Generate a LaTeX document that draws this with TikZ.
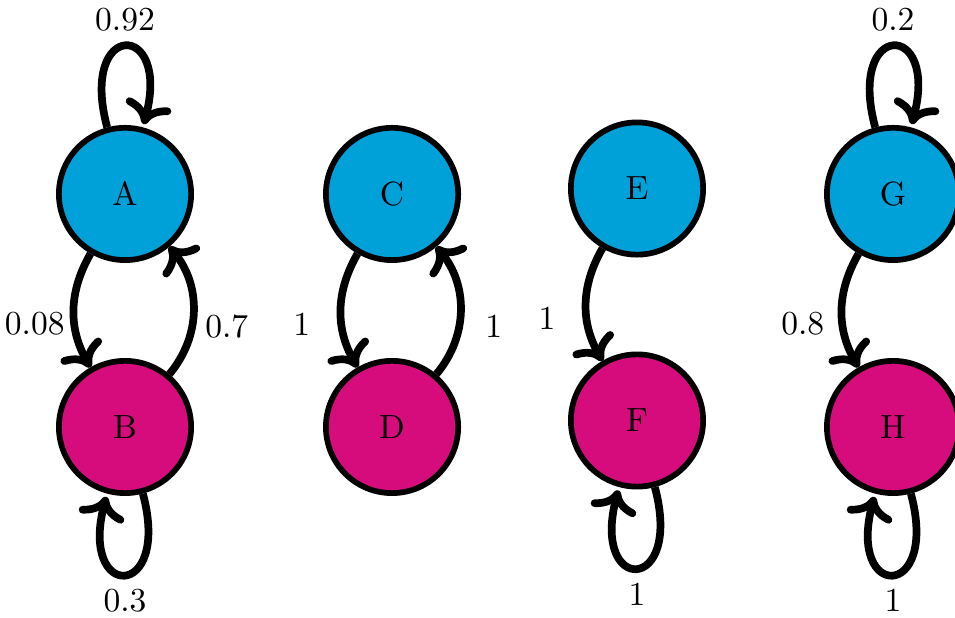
\documentclass[tikz,border=0pt]{standalone}
\usetikzlibrary{arrows.meta}
\usepackage{xcolor}

\definecolor{stateblue}{RGB}{0,160,216}
\definecolor{statepink}{RGB}{214,12,124}

\tikzset{
state/.style={circle, draw=black, line width=1.7pt, minimum size=1.385cm, inner sep=0pt},
upper state/.style={state, fill=stateblue},
lower state/.style={state, fill=statepink},
trans/.style={->, line width=2.3pt},
lab left/.style={xshift=-4.1mm, yshift=-1.4mm},
lab right/.style={xshift=3.5mm, yshift=-1.7mm}
}

\begin{document}
\begin{tikzpicture}
\useasboundingbox (0,0) rectangle (10,-6.471);

% -------- States --------
\node[upper state] (A) at (1.309,-2.031) {A};
\node[lower state] (B) at (1.309,-4.471) {B};
\node[upper state] (C) at (4.105,-2.031) {C};
\node[lower state] (D) at (4.105,-4.471) {D};
\node[upper state] (E) at (6.670,-1.974) {E};
\node[lower state] (F) at (6.670,-4.403) {F};
\node[upper state] (G) at (9.351,-2.031) {G};
\node[lower state] (H) at (9.351,-4.471) {H};

% -------- Transitions --------
\path[trans]
(A) edge[loop above] node[above] {0.92} (A)
(A) edge[bend right] node[lab left] {0.08} (B)
(B) edge[bend right=40] node[lab right] {0.7} (A)
(B) edge[loop below] node[below] {0.3} (B);

\path[trans]
(C) edge[bend right] node[lab left] {1} (D)
(D) edge[bend right=40] node[lab right] {1} (C);

\path[trans]
(E) edge[bend right] node[lab left] {1} (F)
(F) edge[loop below] node[below] {1} (F);

\path[trans]
(G) edge[loop above] node[above] {0.2} (G)
(G) edge[bend right] node[lab left] {0.8} (H)
(H) edge[loop below] node[below] {1} (H);

\end{tikzpicture}
\end{document}
